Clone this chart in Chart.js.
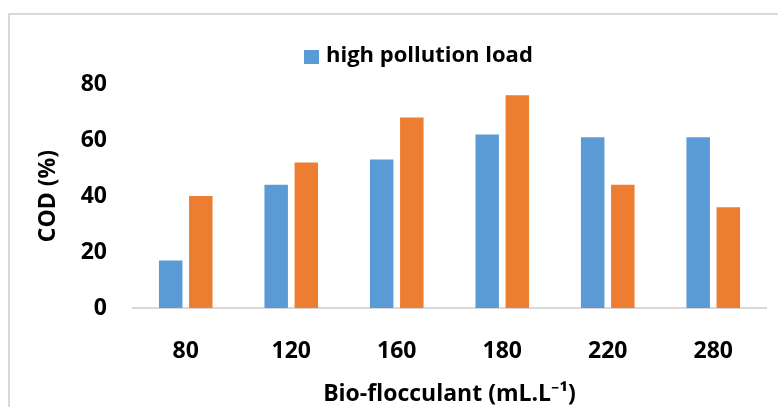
<!DOCTYPE html>
<html>
<head>
<meta charset="utf-8">
<script src="https://cdn.jsdelivr.net/npm/chart.js@4.4.1/dist/chart.umd.min.js"></script>
<style>
  html, body { margin: 0; padding: 0; background: #ffffff; }
  #wrap { position: relative; width: 778px; height: 407px; overflow: hidden; }
  #frame { position: absolute; left: 8px; top: 13px; width: 800px; height: 420px;
           border-left: 2.5px solid #d9d9d9; border-top: 2px solid #d9d9d9; box-sizing: border-box; }
  canvas { position: absolute; left: 0; top: 0; }
</style>
</head>
<body>
<div id="wrap">
  <div id="frame"></div>
  <canvas id="c" width="778" height="407"></canvas>
</div>
<script>
const categories = ['80', '120', '160', '180', '220', '280'];
const highLoad = [17, 44, 53, 62, 61, 61];
const lowLoad = [40, 52, 68, 76, 44, 36];
const yTicks = [0, 20, 40, 60, 80];
const seriesNames = ['high pollution load', 'low pollution load'];
const xTitle = 'Bio-flocculant (mL.L\u207B\u00B9)';
const yTitle = 'COD (%)';

const FONT = "'Open Sans', 'Noto Sans', sans-serif";
const BLUE = '#5B9BD5';
const ORANGE = '#ED7D31';

const legendPlugin = {
  id: 'singleLegend',
  afterDraw(chart) {
    const ctx = chart.ctx;
    const ds = chart.data.datasets[0];
    ctx.save();
    ctx.fillStyle = ds.backgroundColor;
    ctx.fillRect(304, 50, 15, 14);
    ctx.fillStyle = '#000000';
    ctx.font = 'bold 22px ' + FONT;
    ctx.textBaseline = 'middle';
    ctx.textAlign = 'left';
    ctx.fillText(ds.label, 326, 56);
    ctx.restore();
  }
};

new Chart(document.getElementById('c'), {
  type: 'bar',
  data: {
    labels: categories,
    datasets: [
      { label: seriesNames[0], data: highLoad, backgroundColor: BLUE,
        categoryPercentage: 0.571, barPercentage: 0.78 },
      { label: seriesNames[1], data: lowLoad, backgroundColor: ORANGE,
        categoryPercentage: 0.571, barPercentage: 0.78 }
    ]
  },
  options: {
    responsive: false,
    animation: false,
    layout: { padding: { left: 8, right: 12, top: 84, bottom: 0 } },
    plugins: {
      legend: { display: false },
      tooltip: { enabled: false }
    },
    scales: {
      x: {
        afterFit(scale) { scale.height = 99; },
        grid: { display: false, drawTicks: false },
        border: { display: true, color: '#d9d9d9', width: 2 },
        ticks: { color: '#000000', padding: 30, maxRotation: 0,
                 font: { family: FONT, size: 23, weight: 'bold', lineHeight: 1.2 } },
        title: { display: true, text: xTitle, color: '#000000', padding: { top: 0, bottom: 0 },
                 font: { family: FONT, size: 23, weight: 'bold', lineHeight: 1.05 } }
      },
      y: {
        min: 0, max: 80,
        afterBuildTicks(scale) { scale.ticks = yTicks.map(v => ({ value: v })); },
        afterFit(scale) { scale.width = 125; },
        grid: { display: false, drawTicks: false },
        border: { display: false },
        ticks: { color: '#000000', padding: 26, font: { family: FONT, size: 23, weight: 'bold', lineHeight: 1.2 } },
        title: { display: true, text: yTitle, color: '#000000', padding: { top: 27, bottom: 0 },
                 font: { family: FONT, size: 23, weight: 'bold', lineHeight: 1.2 } }
      }
    }
  },
  plugins: [legendPlugin]
});
</script>
</body>
</html>
